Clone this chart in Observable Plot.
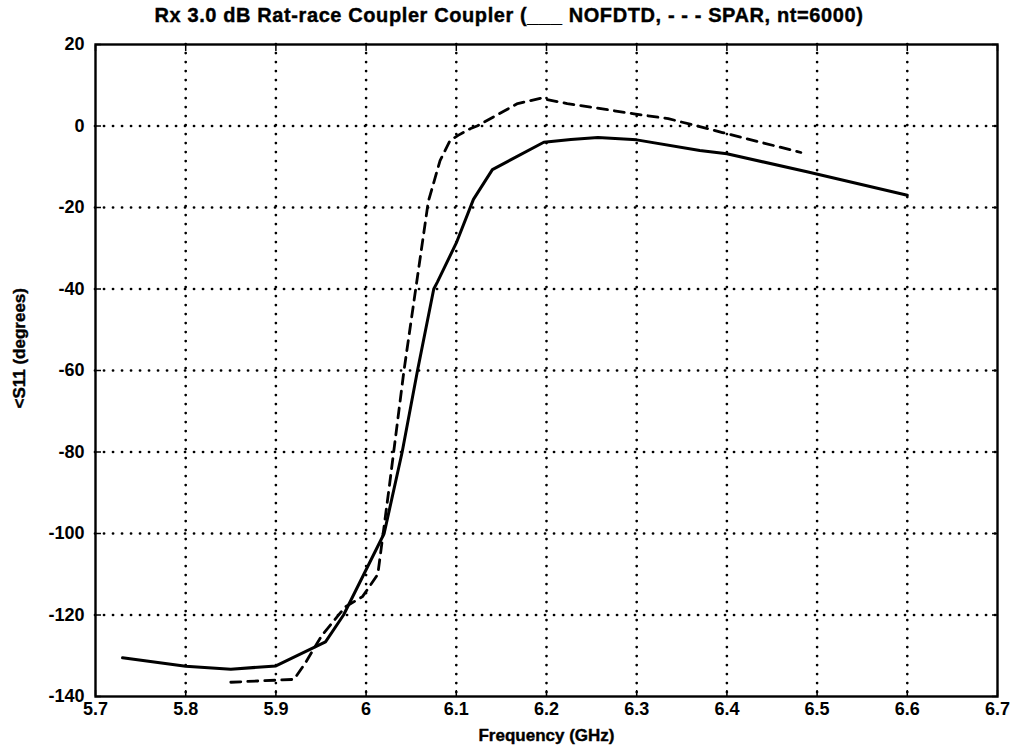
<!DOCTYPE html>
<html>
<head>
<meta charset="utf-8">
<script src="https://cdn.jsdelivr.net/npm/d3@7"></script>
<script src="https://cdn.jsdelivr.net/npm/@observablehq/plot@0.6"></script>
<style>
  html, body { margin: 0; padding: 0; background: #fff; }
  #title { font-family: "Liberation Sans", Arial, sans-serif; font-weight: bold; font-size: 20px; height: 28px; line-height: 30px; text-align: center; width: 1010px; letter-spacing: 0.6px; padding-left: 4px; -webkit-text-stroke: 0.4px #000; }
  svg { display: block; }
</style>
</head>
<body>
<div id="title">Rx 3.0 dB Rat-race Coupler Coupler (___ NOFDTD, - - - SPAR, nt=6000)</div>
<div id="chart"></div>
<script>
// NOFDTD (solid)
const nofdtdFreq = [5.73, 5.8, 5.85, 5.9, 5.955, 5.975, 6.02, 6.04, 6.057, 6.075, 6.079, 6.10, 6.119, 6.14, 6.197, 6.227, 6.257, 6.30, 6.37, 6.40, 6.49, 6.60];
const nofdtdPhase = [-130.5, -132.6, -133.3, -132.5, -126.6, -120, -100, -80, -60, -40, -38.3, -28.7, -18, -10.7, -4, -3.3, -2.8, -3.4, -6, -6.8, -11.3, -17];
// SPAR (dashed)
const sparFreq = [5.85, 5.92, 5.932, 5.951, 5.977, 5.996, 6.013, 6.026, 6.042, 6.055, 6.069, 6.082, 6.093, 6.102, 6.116, 6.123, 6.168, 6.193, 6.223, 6.238, 6.297, 6.335, 6.367, 6.395, 6.482];
const sparPhase = [-136.5, -135.8, -132, -125, -118, -115.5, -110, -88, -60, -40, -18.5, -8.5, -3.6, -2.3, -0.6, 0, 5.5, 6.8, 5.5, 5, 3, 1.8, 0, -1.6, -6.5];

const xTicks = [5.7, 5.8, 5.9, 6.0, 6.1, 6.2, 6.3, 6.4, 6.5, 6.6, 6.7];
const yTicks = [20, 0, -20, -40, -60, -80, -100, -120, -140];

const solid = nofdtdFreq.map((f, i) => ({f, p: nofdtdPhase[i]}));
const dashed = sparFreq.map((f, i) => ({f, p: sparPhase[i]}));

const font = '"Liberation Sans", Arial, sans-serif';
const blank = () => "";
const chart = Plot.plot({
  width: 1010,
  height: 726,
  marginLeft: 95,
  marginRight: 13,
  marginTop: 16,
  marginBottom: 58,
  style: {fontFamily: font, fontSize: "17px", fontWeight: "bold", color: "#000", background: "#fff"},
  x: {domain: [5.7, 6.7]},
  y: {domain: [-140, 20]},
  marks: [
    Plot.ruleX(xTicks.slice(1, -1), {stroke: "#000", strokeWidth: 2.7, strokeDasharray: "0.1,8.9", strokeLinecap: "round"}),
    Plot.ruleY(yTicks.slice(1, -1), {stroke: "#000", strokeWidth: 2.7, strokeDasharray: "0.1,8.9", strokeLinecap: "round"}),
    Plot.axisX({ticks: xTicks, tickSize: -6, tickPadding: 12, tickFormat: d => d === 6 ? "6" : d3.format(".1f")(d), label: null, fontSize: 18, fontWeight: "bold", strokeWidth: 1.5}),
    Plot.axisX({anchor: "top", ticks: xTicks, tickSize: -6, tickFormat: blank, label: null, strokeWidth: 1.5}),
    Plot.axisY({ticks: yTicks, tickSize: -6, tickPadding: 17, tickFormat: d => String(d), label: null, fontSize: 18, fontWeight: "bold", strokeWidth: 1.5}),
    Plot.axisY({anchor: "right", ticks: yTicks, tickSize: -6, tickFormat: blank, label: null, strokeWidth: 1.5}),
    Plot.frame({stroke: "#000", strokeWidth: 2.4}),
    Plot.line(solid, {x: "f", y: "p", stroke: "#000", strokeWidth: 3}),
    Plot.line(dashed, {x: "f", y: "p", stroke: "#000", strokeWidth: 2.8, strokeDasharray: "10,7"}),
    Plot.text(["Frequency (GHz)"], {frameAnchor: "bottom", dy: 44, fontSize: 17, fontWeight: "bold", fill: "#000", stroke: "#000", strokeWidth: 0.4}),
    Plot.text(["<S11 (degrees)"], {frameAnchor: "left", dx: -76, dy: 38, rotate: -90, fontSize: 17, fontWeight: "bold", fill: "#000", stroke: "#000", strokeWidth: 0.4})
  ]
});
document.getElementById("chart").appendChild(chart);
</script>
</body>
</html>
